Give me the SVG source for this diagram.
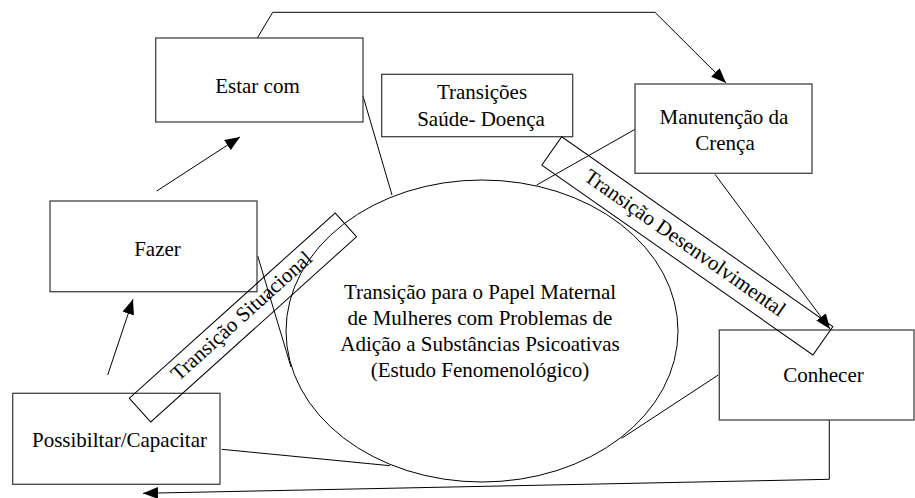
<svg xmlns="http://www.w3.org/2000/svg" width="915" height="498" viewBox="0 0 915 498">
<style>
.box{fill:none;stroke:#444;stroke-width:1.3}
.band{fill:none;stroke:#000;stroke-width:1}
.ln{fill:none;stroke:#000;stroke-width:1}
text{font-family:"Liberation Serif","Times New Roman",serif;font-size:21px;fill:#000;text-anchor:middle}
</style>
<defs>
<marker id="ah" markerUnits="userSpaceOnUse" markerWidth="16" markerHeight="12" refX="15" refY="6" orient="auto">
<path d="M0,0 L15,6 L0,12 Z" fill="#000"/>
</marker>
</defs>
<g id="connectors">
<line class="ln" x1="107.7" y1="375" x2="133" y2="299.3" marker-end="url(#ah)"/>
<line class="ln" x1="156.7" y1="191" x2="240" y2="137" marker-end="url(#ah)"/>
<polyline class="ln" points="257.3,38 272.7,12.3 655,12.3 726,83" marker-end="url(#ah)"/>
<line class="ln" x1="363" y1="96" x2="392" y2="195"/>
<line class="ln" x1="635" y1="129.3" x2="536.7" y2="185"/>
<line class="ln" x1="715" y1="174.3" x2="830" y2="329" marker-end="url(#ah)"/>
<line class="ln" x1="257.7" y1="256" x2="291" y2="367"/>
<line class="ln" x1="221.7" y1="449.3" x2="390" y2="465.7"/>
<line class="ln" x1="718.3" y1="375" x2="621.7" y2="438.3"/>
<polyline class="ln" points="829.3,420 829.3,479.3 143,493.3" marker-end="url(#ah)"/>
</g>
<g id="center">
<ellipse class="ln" cx="482" cy="331" rx="196" ry="151"/>
<text x="480" y="299">Transição para o Papel Maternal</text>
<text x="480" y="325">de Mulheres com Problemas de</text>
<text x="480" y="351">Adição a Substâncias Psicoativas</text>
<text x="480" y="377">(Estudo Fenomenológico)</text>
</g>
<g id="estar">
<rect class="box" x="155.7" y="38" width="207.3" height="84"/>
<text x="257.5" y="93">Estar com</text>
</g>
<g id="transicoes">
<rect class="box" x="381.7" y="74.3" width="191" height="62.4"/>
<text x="482" y="99.3">Transições</text>
<text x="481" y="125.7">Saúde- Doença</text>
</g>
<g id="manutencao">
<rect class="box" x="635" y="84" width="177" height="89.3"/>
<text x="724" y="124">Manutenção da</text>
<text x="725" y="150">Crença</text>
</g>
<g id="fazer">
<rect class="box" x="50" y="201" width="207" height="90.7"/>
<text x="157.5" y="256">Fazer</text>
</g>
<g id="possibilitar">
<rect class="box" x="12.7" y="393.3" width="207.3" height="91"/>
<text x="119.5" y="446.7">Possibiltar/Capacitar</text>
</g>
<g id="conhecer">
<rect class="box" x="719.3" y="330" width="194.7" height="90"/>
<text x="823.5" y="381.7">Conhecer</text>
</g>
<g id="band-desenvolvimental" transform="translate(561.7,136.7) rotate(35)">
<rect class="band" x="0" y="0" width="331" height="34.7"/>
<text x="162" y="23">Transição Desenvolvimental</text>
</g>
<g id="band-situacional" transform="translate(129.3,398.3) rotate(-42)">
<rect class="band" x="0" y="0" width="277" height="32"/>
<text x="138.5" y="20.5">Transição Situacional</text>
</g>
</svg>
